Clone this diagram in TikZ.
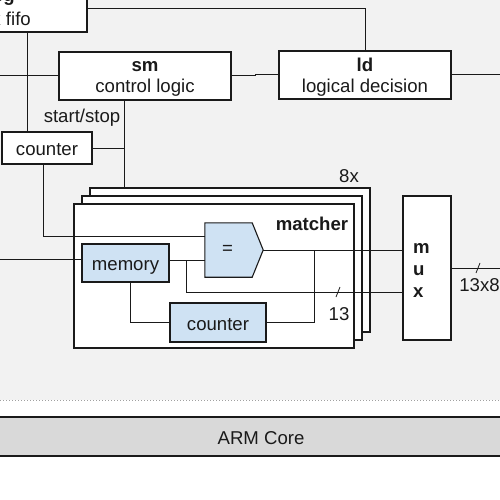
\documentclass[tikz,border=0pt]{standalone}
\usepackage{fontspec}
\setmainfont{Liberation Sans}
\definecolor{bg}{HTML}{F2F2F2}
\definecolor{blu}{HTML}{CFE2F3}
\definecolor{armg}{HTML}{D9D9D9}
\definecolor{ln}{HTML}{1A1A1A}
\definecolor{dotg}{HTML}{A0A0A0}
\begin{document}
\begin{tikzpicture}[x=1pt,y=-1pt,
  box/.style={draw=ln, fill=white, rectangle, inner sep=0pt, line width=1.1pt},
  bbox/.style={draw=ln, fill=blu, rectangle, inner sep=0pt, line width=1.1pt},
  lbl/.style={inner sep=0pt, anchor=base, text=ln, font=\fontsize{18.6}{21}\selectfont},
  blbl/.style={inner sep=0pt, anchor=base, text=ln, font=\fontsize{18.6}{21}\selectfont\bfseries},
  wire/.style={draw=ln, line width=1pt},
  tick/.style={draw=ln, line width=0.8pt}]
\useasboundingbox (0,0) rectangle (500,500);
\clip (0,0) rectangle (500,500);
\fill[white] (0,0) rectangle (500,500);
\fill[bg] (0,0) rectangle (500,400);
\draw[dotg, line width=1pt, dotted] (0,400) -- (500,400);

% ARM core bar
\node[draw=ln, fill=armg, rectangle, inner sep=0pt, line width=1.2pt,
      minimum width=520pt, minimum height=39pt] (arm) at (250,436.5) {};
\node[lbl] (armt) at (261,444) {ARM Core};

% top boxes
\node[box, minimum width=147pt, minimum height=42pt] (fifo) at (13.5,11) {};
\node[blbl, anchor=base east] (fifot1) at (15,2) {dbg};
\node[lbl, anchor=base east] (fifot2) at (31,26) {rx fifo};

\node[box, minimum width=172pt, minimum height=48pt] (sm) at (145,76) {};
\node[blbl] (smt1) at (145,72) {sm};
\node[lbl] (smt2) at (145,93) {control logic};

\node[box, minimum width=172pt, minimum height=48pt] (ld) at (365,75) {};
\node[blbl] (ldt1) at (365,72) {ld};
\node[lbl] (ldt2) at (365,93) {logical decision};

\node[box, minimum width=90pt, minimum height=32pt] (cnta) at (47,148) {};
\node[lbl] (cntat) at (47,155) {counter};
\node[lbl] (ss) at (82,122) {start/stop};

% matcher stack
\node[box, minimum width=280pt, minimum height=144pt] (back) at (230,260) {};
\node[box, minimum width=280pt, minimum height=144pt] (mid) at (222,268) {};
\node[box, minimum width=280pt, minimum height=144pt] (front) at (214,276) {};
\node[lbl] (eight) at (349,182) {8x};
\node[blbl] (matt) at (312,230) {matcher};

\node[bbox, minimum width=87pt, minimum height=38pt] (mem) at (125.5,263) {};
\node[lbl] (memt) at (125.5,270) {memory};

\node[bbox, minimum width=96pt, minimum height=39pt] (cntb) at (218,322.5) {};
\node[lbl] (cntbt) at (218,330) {counter};

\node[inner sep=0pt, minimum width=58pt, minimum height=54pt] (eq) at (234,250) {};
\draw[draw=ln, fill=blu, line width=1.1pt] (eq.north west) -- ([xshift=-11pt]eq.north east)
  -- (eq.east) -- ([xshift=-11pt]eq.south east) -- (eq.south west) -- cycle;
\node[inner sep=0pt, text=ln, font=\fontsize{18.6}{21}\selectfont] (eqt) at (227.5,250) {=};

% mux
\node[box, minimum width=48pt, minimum height=144pt] (mux) at (427,268) {};
\node[blbl, anchor=base west] (mm) at (413,253) {m};
\node[blbl, anchor=base west] (mu) at (413,275) {u};
\node[blbl, anchor=base west] (mx) at (413,297) {x};

% helper coordinates
\coordinate (y9) at (0,9);
\coordinate (lin) at (0,76);
\coordinate (rout) at (500,75);
\coordinate (fv) at (27,32);
\coordinate (smv) at (124,100);
\coordinate (c1b) at (43,164);
\coordinate (eqin1) at (205,236);
\coordinate (eqin2) at (205,260);
\coordinate (minl) at (0,259);
\coordinate (br1) at (186,260);
\coordinate (mux13) at (403,292);
\coordinate (br2) at (314,250);
\coordinate (mb) at (130,282);
\coordinate (outr) at (500,268);

% wires
\draw[wire] (fifo.east |- y9) -| (ld.north);
\draw[wire] (lin) -- (sm.west);
\draw[wire] (sm.east) -- ++(24,0) |- (ld.west);
\draw[wire] (ld.east) -- (rout);
\draw[wire] (fv) -- (fv |- cnta.north);
\draw[wire] (smv) -- (smv |- back.north);
\draw[wire] (cnta.east) -- (cnta.east -| smv);
\draw[wire] (c1b) |- (eqin1);
\draw[wire] (minl) -- (minl -| mem.west);
\draw[wire] (mem.east |- eqin2) -- (eqin2);
\draw[wire] (br1) |- (mux13);
\draw[wire] (eq.east) -- (eq.east -| mux.west);
\draw[wire] (br2) |- (cntb.east);
\draw[wire] (mb) |- (cntb.west);
\draw[wire] (mux.east) -- (outr);

% bus ticks and widths
\coordinate (t1a) at (336,297);
\coordinate (t1b) at (340,287);
\draw[tick] (t1a) -- (t1b);
\node[lbl] (w13) at (339,320) {13};
\coordinate (t2a) at (476,273);
\coordinate (t2b) at (480,263);
\draw[tick] (t2a) -- (t2b);
\node[lbl] (w138) at (479.5,291) {13x8};
\end{tikzpicture}
\end{document}
